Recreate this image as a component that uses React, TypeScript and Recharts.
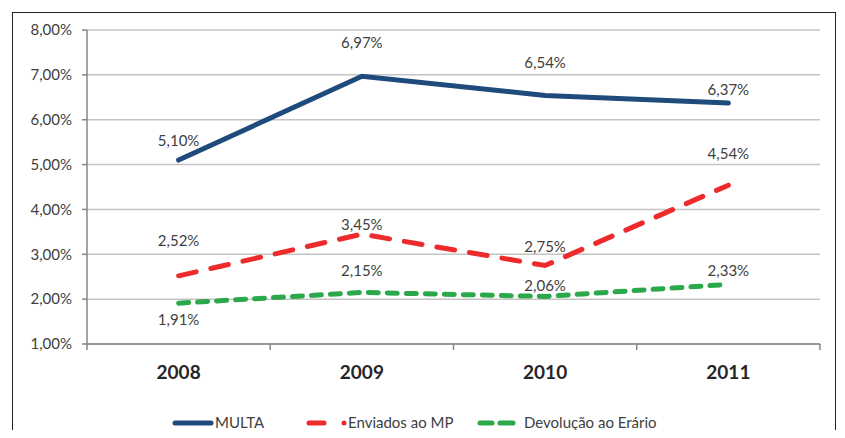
import React from "react";
import { LineChart, Line, XAxis, YAxis, CartesianGrid, LabelList } from "recharts";

const years = ["2008", "2009", "2010", "2011"];
const multa = [5.1, 6.97, 6.54, 6.37];
const enviados = [2.52, 3.45, 2.75, 4.54];
const devolucao = [1.91, 2.15, 2.06, 2.33];
const yTicks = [1, 2, 3, 4, 5, 6, 7, 8];

// label vertical offsets (style only)
const multaDy = [-20, -34, -33, -14];
const enviadosDy = [-36, -10, -20, -32];
const devolucaoDy = [16, -22, -11, -14];

const data = years.map((y, i) => ({
  x: i + 0.5,
  year: y,
  multa: multa[i],
  enviados: enviados[i],
  devolucao: devolucao[i],
}));

const xTicks: number[] = [];
for (let i = 0; i <= years.length; i++) {
  xTicks.push(i);
  if (i < years.length) xTicks.push(i + 0.5);
}

const fmt = (v: number) => v.toFixed(2).replace(".", ",") + "%";
const FONT = "Lato, 'Open Sans', sans-serif";

const XTick = (props: any) => {
  const { x, y, payload } = props;
  const v = payload.value as number;
  if (Number.isInteger(v)) {
    return <line x1={x} y1={y} x2={x} y2={y + 6} stroke="#868686" strokeWidth={1.5} />;
  }
  const idx = Math.floor(v);
  return (
    <text x={x} y={y + 35} textAnchor="middle" fontFamily={FONT} fontWeight="bold" fontSize={19} fill="#262626">
      {years[idx]}
    </text>
  );
};

const makeLabel = (offsets: number[]) => (props: any) => {
  const { x, y, value, index } = props;
  return (
    <text x={x} y={y + offsets[index]} textAnchor="middle" dominantBaseline="central" fontFamily={FONT} fontSize={15} fill="#404040">
      {fmt(value)}
    </text>
  );
};

const LegendBox = () => (
  <svg width={845} height={30} style={{ position: "absolute", left: 0, top: 408 }}>
    <line x1={175} y1={15} x2={211} y2={15} stroke="#1f4a7c" strokeWidth={5} strokeLinecap="round" />
    <text x={215} y={20} fontFamily={FONT} fontSize={15} fill="#404040">MULTA</text>
    <line x1={309} y1={15} x2={324} y2={15} stroke="#ee2b2b" strokeWidth={5} strokeLinecap="round" />
    <circle cx={344} cy={15} r={2.5} fill="#ee2b2b" />
    <text x={348} y={20} fontFamily={FONT} fontSize={15} fill="#404040">Enviados ao MP</text>
    <line x1={480} y1={15} x2={492} y2={15} stroke="#2aa84a" strokeWidth={5} strokeLinecap="round" />
    <line x1={500} y1={15} x2={513} y2={15} stroke="#2aa84a" strokeWidth={5} strokeLinecap="round" />
    <text x={524} y={20} fontFamily={FONT} fontSize={15} fill="#404040">Devolução ao Erário</text>
  </svg>
);

export default function App() {
  return (
    <div style={{ position: "relative", width: 845, height: 438, margin: -8, background: "#fff", overflow: "hidden" }}>
      <div style={{ position: "absolute", left: 12, top: 12, width: 824, height: 460, border: "1.5px solid #222", boxSizing: "border-box" }} />
      <div style={{ position: "absolute", left: 0, top: 0 }}>
        <LineChart width={845} height={438} data={data} margin={{ top: 30, right: 25, left: 12, bottom: 44 }}>
          <CartesianGrid vertical={false} stroke="#c4c4c4" strokeWidth={1.5} />
          <XAxis
            dataKey="x"
            type="number"
            domain={[0, years.length]}
            ticks={xTicks}
            interval={0}
            tickLine={false}
            tickSize={0}
            tickMargin={0}
            height={50}
            axisLine={{ stroke: "#868686", strokeWidth: 1.5 }}
            tick={<XTick />}
          />
          <YAxis
            domain={[1, 8]}
            ticks={yTicks}
            interval={0}
            width={75}
            tickSize={5}
            tickMargin={10}
            tickFormatter={fmt}
            axisLine={{ stroke: "#868686", strokeWidth: 1.5 }}
            tickLine={{ stroke: "#868686", strokeWidth: 1.5 }}
            tick={{ fontFamily: FONT, fontSize: 15, fill: "#404040" }}
          />
          <Line dataKey="multa" stroke="#1f4a7c" strokeWidth={5} dot={false} strokeLinecap="round" isAnimationActive={false}>
            <LabelList dataKey="multa" content={makeLabel(multaDy)} />
          </Line>
          <Line dataKey="enviados" stroke="#ee2b2b" strokeWidth={5} strokeDasharray="18 15" dot={false} strokeLinecap="round" isAnimationActive={false}>
            <LabelList dataKey="enviados" content={makeLabel(enviadosDy)} />
          </Line>
          <Line dataKey="devolucao" stroke="#2aa84a" strokeWidth={5} strokeDasharray="10 9" dot={false} strokeLinecap="round" isAnimationActive={false}>
            <LabelList dataKey="devolucao" content={makeLabel(devolucaoDy)} />
          </Line>
        </LineChart>
      </div>
      <LegendBox />
    </div>
  );
}
